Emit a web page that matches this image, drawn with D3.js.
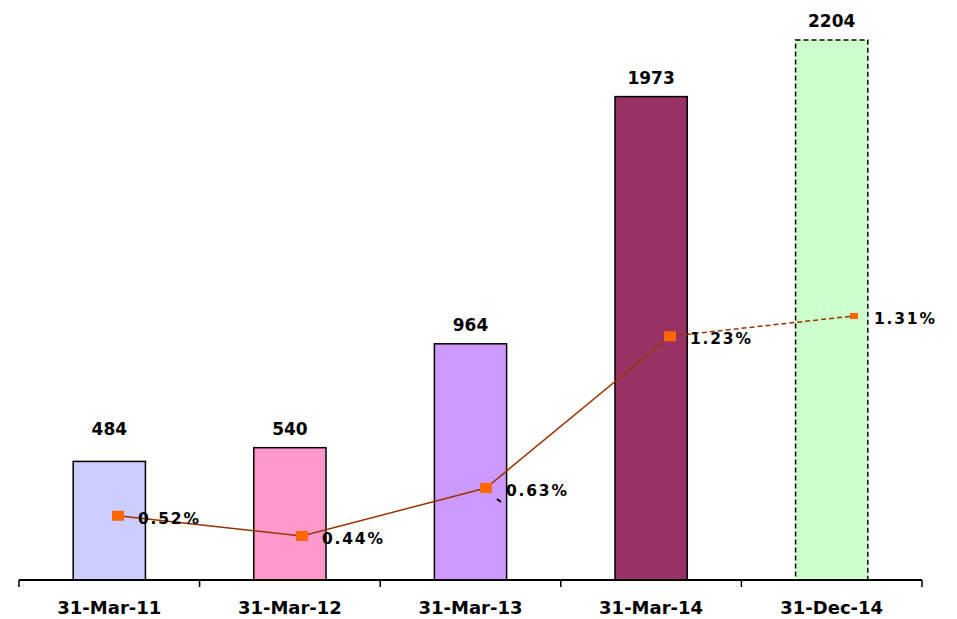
<!DOCTYPE html>
<html>
<head>
<meta charset="utf-8">
<script src="https://cdn.jsdelivr.net/npm/d3@7"></script>
<style>
  body { margin: 0; background: #fff; }
  svg { display: block; font-family: "DejaVu Sans", Verdana, sans-serif; }
</style>
</head>
<body>
<div id="chart"></div>
<script>
// chart data
var dates = ["31-Mar-11", "31-Mar-12", "31-Mar-13", "31-Mar-14", "31-Dec-14"];
var counts = [484, 540, 964, 1973, 2204];
var shares = [0.52, 0.44, 0.63, 1.23, 1.31];
var barColors = ["#CCCCFF", "#FF99CC", "#CC99FF", "#993366", "#CCFFCC"];

var width = 957, height = 619;

var svg = d3.select("#chart").append("svg")
    .attr("width", width)
    .attr("height", height);

var x = d3.scaleBand()
    .domain(dates)
    .range([19, 922])
    .paddingInner(0.6)
    .paddingOuter(0.3);

// line points sit a little off the bar centres
var xLine = d3.scalePoint()
    .domain(dates)
    .range([118, 854]);

var y = d3.scaleLinear()
    .domain([0, 2204])
    .range([580, 40]);

var y2 = d3.scaleLinear()
    .domain([0.44, 1.31])
    .range([536, 316]);

// bars
svg.append("g")
  .selectAll("rect")
  .data(counts)
  .enter().append("rect")
    .attr("x", (d, i) => x(dates[i]))
    .attr("y", d => y(d))
    .attr("width", x.bandwidth())
    .attr("height", d => y(0) - y(d))
    .attr("fill", (d, i) => barColors[i])
    .attr("stroke", "#000")
    .attr("stroke-width", 1.5)
    .attr("stroke-dasharray", (d, i) => i == 4 ? "5,3" : null);

// value labels above bars (the two small ones share a row)
var lowRow = y(counts[1]);
svg.append("g")
  .selectAll("text")
  .data(counts)
  .enter().append("text")
    .attr("x", (d, i) => x(dates[i]) + x.bandwidth() / 2)
    .attr("y", d => Math.min(y(d), lowRow) - 13)
    .attr("text-anchor", "middle")
    .attr("font-size", 17)
    .attr("font-weight", "bold")
    .text(d => d);

// axis
var axis = svg.append("g")
    .attr("transform", "translate(0," + y(0) + ")");
axis.append("line")
    .attr("x1", 19).attr("x2", 922)
    .attr("stroke", "#000").attr("stroke-width", 2);
var tickPos = dates.map(d => x(d) - x.step() * x.paddingInner() / 2);
tickPos.push(922);
axis.selectAll(".tick")
  .data(tickPos)
  .enter().append("line")
    .attr("x1", d => d).attr("x2", d => d)
    .attr("y1", 0).attr("y2", 7)
    .attr("stroke", "#000").attr("stroke-width", 1.5);
axis.selectAll(".lbl")
  .data(dates)
  .enter().append("text")
    .attr("x", d => x(d) + x.bandwidth() / 2)
    .attr("y", 34)
    .attr("text-anchor", "middle")
    .attr("font-size", 18)
    .attr("font-weight", "bold")
    .text(d => d);

// percentage line
var pts = shares.map((s, i) => [xLine(dates[i]), y2(s)]);
var line = d3.line();
svg.append("path")
    .attr("d", line(pts.slice(0, 4)))
    .attr("fill", "none")
    .attr("stroke", "#993300")
    .attr("stroke-width", 1.5);
svg.append("path")
    .attr("d", line(pts.slice(3)))
    .attr("fill", "none")
    .attr("stroke", "#993300")
    .attr("stroke-width", 1.5)
    .attr("stroke-dasharray", "5,3");

// little leader stroke under the 0.63% label
svg.append("line")
    .attr("x1", pts[2][0] + 11).attr("y1", pts[2][1] + 11)
    .attr("x2", pts[2][0] + 15).attr("y2", pts[2][1] + 14)
    .attr("stroke", "#000").attr("stroke-width", 2);

svg.append("g")
  .selectAll("rect")
  .data(pts)
  .enter().append("rect")
    .attr("x", (d, i) => d[0] - (i == 4 ? 4 : 6))
    .attr("y", (d, i) => d[1] - (i == 4 ? 3 : 5))
    .attr("width", (d, i) => i == 4 ? 8 : 12)
    .attr("height", (d, i) => i == 4 ? 6 : 10)
    .attr("fill", "#FF6600");

svg.append("g")
  .selectAll("text")
  .data(shares)
  .enter().append("text")
    .attr("x", (d, i) => xLine(dates[i]) + 20)
    .attr("y", d => y2(d) + 8)
    .attr("font-size", 15.5)
    .attr("font-weight", "bold")
    .attr("letter-spacing", 1.8)
    .text(d => d.toFixed(2) + "%");
</script>
</body>
</html>
